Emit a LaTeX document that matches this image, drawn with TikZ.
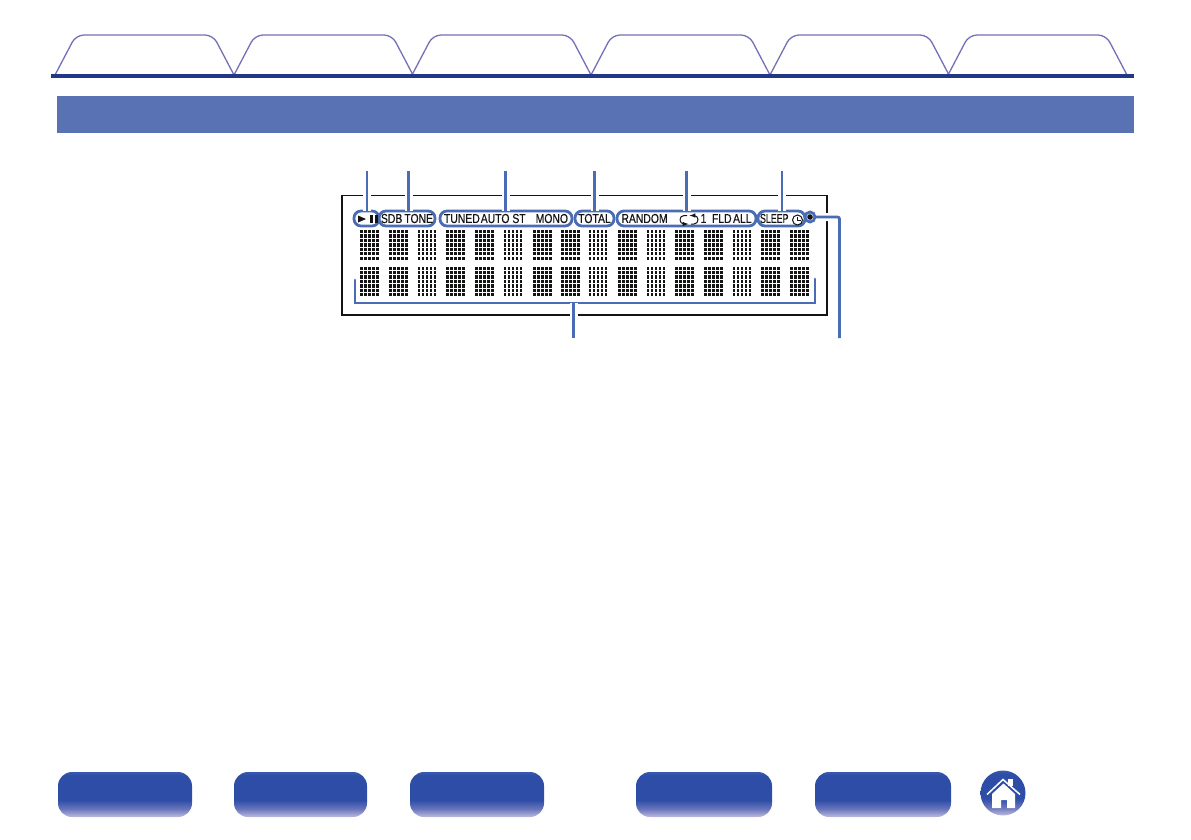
\documentclass[tikz,border=0pt]{standalone}
\usepackage{fontspec}
\newfontfamily\lcdfont[FakeStretch=0.8,FakeBold=0.25]{Liberation Sans}
\definecolor{tabline}{HTML}{7470B5}
\definecolor{tabbase}{HTML}{22378A}
\definecolor{titleblue}{HTML}{5872B3}
\definecolor{leadblue}{HTML}{4A6CB4}
\definecolor{framegray}{HTML}{141414}
\definecolor{btnlow}{HTML}{BDBBE0}
\definecolor{btnmid}{HTML}{6A75BC}
\definecolor{btnblue}{HTML}{2D4DA6}
\definecolor{btntop}{HTML}{3A58AE}
\pgfdeclareverticalshading{btnshade}{100bp}{color(0bp)=(btnlow); color(25bp)=(btnlow); color(34bp)=(btnmid); color(44bp)=(btnblue); color(71bp)=(btnblue); color(75bp)=(btntop); color(100bp)=(btntop)}

\tikzstyle{titlebar}=[fill=titleblue,rectangle,minimum width=1077pt,minimum height=37pt,inner sep=0pt]
\tikzstyle{pill}=[draw=leadblue,fill=white,line width=2.8pt,rectangle,rounded corners=7pt,minimum height=15pt,inner sep=0pt,outer sep=0pt,font=\lcdfont\fontsize{13}{13}\selectfont,text=framegray]
\tikzstyle{leader}=[draw=leadblue,line width=2.8pt,preaction={draw=white,line width=8pt}]
\tikzstyle{btn}=[shading=btnshade,rectangle,rounded corners=14pt,minimum height=45pt,inner sep=0pt]

\begin{document}
\begin{tikzpicture}[x=1pt,y=-1pt]
	\useasboundingbox (0,0) rectangle (1191,839);
	\begin{scope}[>=latex]
		% tabs
		\foreach \tx in {55,234,412,591,770,948}{
			\draw[tabline,line width=1.3pt,rounded corners=8pt] (\tx,75) -- ({\tx+21},35) -- ({\tx+158},35) -- ({\tx+179},75);
		}
		\draw[tabbase,line width=3.6pt] (51,76) -- (1134,76);
		\node (title)[titlebar] at (595.5,114.5) {};

		% display
		\draw[framegray,line width=1.6pt] (342,195.5) rectangle (827,315);
		\foreach \cx/\dw in {360/3,389/3,418/2.2,446/3,475/3,504/2.2,533/3,561/3,589/2.2,618/3,647/2.2,675/3,704/3,733/2.2,761/3,790/3}{
			\foreach \cy in {230,266.5}{
				\foreach \c in {0,...,4}{
					\foreach \r in {0,...,6}{
						\fill[framegray] ({\cx+\c*3.95},{\cy+\r*4.45}) rectangle ++(\dw,3.2);
					}
				}
			}
		}

		\coordinate (L1) at (367,171);
		\coordinate (L2) at (408.5,171);
		\coordinate (L3) at (505.5,171);
		\coordinate (L4) at (594.5,171);
		\coordinate (L5) at (686.5,171);
		\coordinate (L6) at (782,171);
		\coordinate (L7) at (573.5,338);
		\coordinate (L8) at (839.5,338);
		\coordinate (BL) at (355,280);
		\coordinate (BR) at (815,279);

		\node (P2)[pill,minimum width=56pt] at (407,218.5) {SDB\hspace{2pt}TONE};
		\node (P3)[pill,minimum width=132pt] at (506,218.5) {TUNED\hspace{1pt}AUTO ST\hspace{10pt}MONO};
		\node (P4)[pill,minimum width=39pt] at (594.5,218.5) {TOTAL};
		\node (P5)[pill,minimum width=139pt] at (686.5,218.5) {RANDOM\hspace{33pt}1\hspace{5.5pt}FLD\hspace{1.5pt}ALL};
		\node (P6)[pill,minimum width=47pt,text width=43pt,align=left] at (781.5,218.5) {\scalebox{.85}[1]{SLEEP}};

		\draw[leader] (L2) -- (L2 |- P2.north);
		\draw[leader] (L3) -- (L3 |- P3.north);
		\draw[leader] (L4) -- (L4 |- P4.north);
		\draw[leader] (L5) -- (L5 |- P5.north);
		\draw[leader] (L6) -- (L6 |- P6.north);
		\draw[leader,line cap=round] (BL) -- (BL |- 0,303) -- (BR |- 0,303) -- (BR);
		\draw[leader] (L7) -- (L7 |- 0,303);
		\draw[leader,rounded corners=2pt] (810,217) -- (L8 |- 0,217) -- (L8);
		\node (P1)[pill,minimum width=25pt] at (366.5,218.5) {};
		\node (P7)[pill,circle,minimum size=10pt,minimum height=10pt] at (810,217) {};
		\draw[leader] (L1) -- (L1 |- P1.north);

		% symbols inside the pills
		\fill[framegray] (358,215.5) -- (366,219) -- (358,222.5) -- cycle;
		\fill[framegray] (370,215) rectangle (373,223);
		\fill[framegray] (374.5,215) rectangle (377.5,223);
		\fill[framegray] (810,217) circle (2.8);
		\draw[->,framegray,line width=1pt] (687,215.5) -- (684,215.5) to[out=180,in=180,looseness=1.6] (684,224) -- (688.5,224);
		\draw[->,framegray,line width=1pt] (691,224) -- (694,224) to[out=0,in=0,looseness=1.6] (694,215.5) -- (689.5,215.5);
		\node (clock)[circle,draw=framegray,line width=1pt,minimum size=10pt,inner sep=0pt] at (797.5,220) {};
		\draw[framegray,line width=.9pt] (797.5,216.5) -- (clock.center) -- (800.5,220);

		% bottom buttons
		\node (B1)[btn,minimum width=134pt] at (125,794.5) {};
		\node (B2)[btn,minimum width=133pt] at (300.5,794.5) {};
		\node (B3)[btn,minimum width=134pt] at (477,794.5) {};
		\node (B4)[btn,minimum width=136pt] at (704,794.5) {};
		\node (B5)[btn,minimum width=136pt] at (883,794.5) {};
		\node (home)[circle,shading=btnshade,minimum size=45pt,inner sep=0pt] at (1003,793) {};
		\fill[white] (1008,778.5) rectangle (1013,785.5);
		\draw[white,line width=1.5pt] (987,794.5) -- (1003,779.5) -- (1020,794.5);
		\fill[white] (1003.5,783.5) -- (1015,794) -- (1015,808) -- (1007,808) -- (1007,800) -- (1001,800) -- (1001,808) -- (992,808) -- (992,794) -- cycle;
	\end{scope}
\end{tikzpicture}
\end{document}
